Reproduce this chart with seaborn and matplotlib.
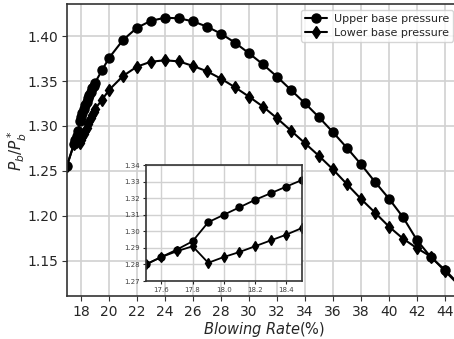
import numpy as np
import pandas as pd
import matplotlib
matplotlib.use("Agg")
import matplotlib.pyplot as plt
import seaborn as sns

blowing_rate = [17.0, 17.5, 17.6, 17.7, 17.8, 17.9, 18.0, 18.1, 18.2, 18.3, 18.4, 18.5,
                18.6, 18.7, 18.8, 18.9, 19.0, 19.5, 20, 21, 22, 23, 24, 25, 26, 27, 28,
                29, 30, 31, 32, 33, 34, 35, 36, 37, 38, 39, 40, 41, 42, 43, 44, 45]
upper_pressure = [1.256, 1.280, 1.2845, 1.289, 1.294, 1.3055, 1.310, 1.3145, 1.319, 1.323, 1.327, 1.331,
                  1.335, 1.338, 1.342, 1.345, 1.348, 1.362, 1.3756, 1.3956, 1.4092, 1.417, 1.4203, 1.4197,
                  1.4163, 1.4104, 1.4026, 1.3926, 1.3808, 1.3685, 1.3548, 1.340, 1.3252, 1.3097, 1.293,
                  1.2756, 1.2574, 1.2378, 1.2192, 1.1986, 1.173, 1.154, 1.140, 1.124]
lower_pressure = [1.256, 1.280, 1.2845, 1.288, 1.291, 1.281, 1.2845, 1.2875, 1.291, 1.2945, 1.298, 1.302,
                  1.305, 1.309, 1.312, 1.316, 1.319, 1.329, 1.340, 1.3556, 1.366, 1.3715, 1.373, 1.3718,
                  1.3667, 1.3608, 1.3526, 1.343, 1.3326, 1.3215, 1.3086, 1.2948, 1.2808, 1.2667, 1.2517,
                  1.2352, 1.2189, 1.2037, 1.1881, 1.1748, 1.1641, 1.1548, 1.1386, 1.123]
series_labels = ["Upper base pressure", "Lower base pressure"]
inset_xticks = [17.6, 17.8, 18.0, 18.2, 18.4]
inset_yticks = [1.27, 1.28, 1.29, 1.30, 1.31, 1.32, 1.33, 1.34]
main_xticks = list(range(18, 46, 2))
main_yticks = [1.15, 1.20, 1.25, 1.30, 1.35, 1.40]

df = pd.DataFrame({"x": blowing_rate, "upper": upper_pressure, "lower": lower_pressure})

sns.set_style("whitegrid", {
    "axes.edgecolor": "0.2",
    "grid.color": "0.82",
    "xtick.bottom": True,
    "ytick.left": True,
})
plt.rcParams['font.family'] = ['DejaVu Sans']

fig = plt.figure(figsize=(4.54, 3.39), dpi=100)
ax_width = 0.87
ax = fig.add_axes([0.1476, 0.1268, ax_width, 0.8614])

def draw(axis, ms, lw):
    sns.lineplot(data=df, x="x", y="upper", ax=axis, color="black", marker="o",
                 markersize=ms, linewidth=lw, label=series_labels[0],
                 markeredgecolor="black", markeredgewidth=1.0)
    sns.lineplot(data=df, x="x", y="lower", ax=axis, color="black", marker="d",
                 markersize=ms, linewidth=lw, label=series_labels[1],
                 markeredgecolor="black", markeredgewidth=1.0)

draw(ax, 6.5, 1.5)
ax.set_xlim(17.0, 17.0 + ax_width * 454 / 14)
ax.set_ylim(1.111, 1.4356)
ax.set_xticks(main_xticks)
ax.set_yticks(main_yticks)
ax.set_yticklabels([f"{v:.2f}" for v in main_yticks])
ax.tick_params(labelsize=10, length=3.5, color="0.2", pad=3)
ax.grid(True, linewidth=1.2)
ax.set_xlabel(r"$\it{Blowing\ Rate}$(%)", fontsize=10.5, labelpad=0.5)
ax.set_ylabel(r"$P_b/P_b^*$", fontsize=11)
ax.yaxis.set_label_coords((29 - 67) / (ax_width * 454), 0.5)
for s in ax.spines.values():
    s.set_linewidth(1.2)
leg = ax.legend(loc="upper right", bbox_to_anchor=((453 - 67) / (ax_width * 454), 0.98),
                fontsize=8, frameon=True, borderpad=0.35, labelspacing=0.35, handlelength=2.0,
                handletextpad=0.6, borderaxespad=0.0)
leg.get_frame().set_edgecolor("0.8")

axin = fig.add_axes([0.321, 0.171, 0.344, 0.342])
draw(axin, 5, 1.3)
axin.get_legend().remove()
axin.set_xlim(17.5, 18.5)
axin.set_ylim(1.27, 1.34)
axin.set_xticks(inset_xticks)
axin.set_yticks(inset_yticks)
axin.set_xticklabels([f"{v:.1f}" for v in inset_xticks])
axin.set_yticklabels([f"{v:.2f}" for v in inset_yticks])
axin.tick_params(labelsize=5, length=2.5, pad=1.5, labelcolor="0.25")
axin.set_xlabel("")
axin.set_ylabel("")
axin.grid(True, linewidth=1.0)
for s in axin.spines.values():
    s.set_linewidth(1.2)

fig.savefig("out.png", dpi=100)
